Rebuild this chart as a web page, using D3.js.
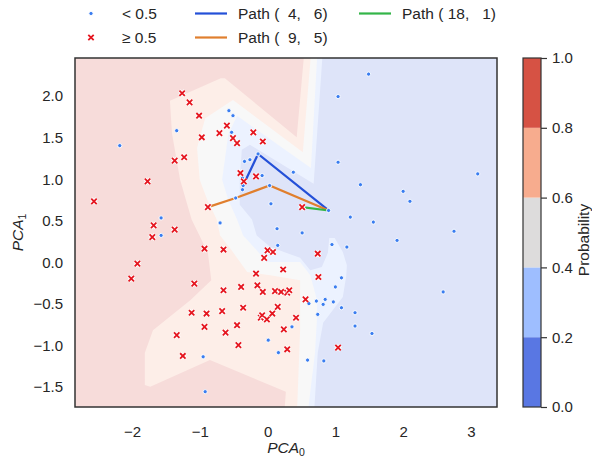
<!DOCTYPE html>
<html>
<head>
<meta charset="utf-8">
<script src="https://cdn.jsdelivr.net/npm/d3@7"></script>
<style>
body { margin: 0; background: #fff; }
svg text { font-family: "Liberation Sans", Arial, sans-serif; fill: #262626; }
</style>
</head>
<body>
<svg width="592" height="458"></svg>
<script>
// points below / above the 0.5 threshold
const lowPoints = [[-0.57,1.82],[-0.51,1.76],[-1.34,1.58],[-2.18,1.40],[-0.53,1.56],[-0.34,1.21],[-0.26,1.23],[-0.14,1.30],
    [-0.08,1.04],[0.38,1.08],[-0.37,1.01],[-0.36,0.92],[-0.37,0.87],[0.03,0.92],[-0.47,0.77],[0.05,0.70],[-0.70,0.47],
    [0.14,0.40],[-1.57,0.53],[1.49,2.26],[1.04,1.99],[1.04,1.20],[3.10,1.06],[1.37,0.93],[2.00,0.85],[2.10,0.73],
    [0.90,0.62],[1.22,0.54],[1.56,0.48],[2.75,0.37],[0.51,0.35],[-1.57,0.32],[0.15,0.20],[0.36,-0.78],[0.01,-0.94],
    [0.16,-1.09],[-0.95,-1.14],[-0.92,-1.56],[0.95,0.21],[1.17,0.18],[1.91,0.26],[1.09,-0.19],[1.00,-0.30],[0.85,-0.45],
    [0.72,-0.47],[0.61,-0.50],[0.82,-0.51],[0.97,-0.48],[1.09,-0.55],[1.29,-0.61],[0.74,-0.63],[1.29,-0.77],[1.54,-0.86],
    [2.59,-0.36],[0.59,-1.18],[0.83,-1.19]];
const highPoints = [[-1.26,2.03],[-1.15,1.92],[-1.01,1.76],[-0.60,1.64],[-0.71,1.55],[-0.97,1.50],[-0.51,1.49],[-0.45,1.43],
    [-0.21,1.56],[-0.07,1.45],[-1.37,1.22],[-1.23,1.26],[-1.77,0.97],[-2.56,0.73],[-0.40,1.07],[-0.35,0.97],[-0.17,1.03],
    [-0.88,0.66],[-1.68,0.44],[-1.37,0.39],[0.51,0.66],[-1.70,0.30],[-0.93,0.16],[-0.65,0.15],[0.00,0.14],[0.08,0.12],
    [-0.05,0.05],[0.23,-0.09],[-1.92,-0.02],[-2.01,-0.20],[-0.17,-0.14],[-1.08,-0.26],[-0.65,-0.34],[-0.39,-0.30],
    [-0.15,-0.28],[-0.07,-0.36],[0.11,-0.35],[0.20,-0.36],[0.29,-0.37],[0.32,-0.34],[-1.12,-0.61],[-0.90,-0.62],
    [-0.67,-0.59],[-0.36,-0.55],[0.15,-0.54],[-0.10,-0.67],[-0.08,-0.64],[-0.01,-0.69],[0.07,-0.62],[0.42,-0.67],
    [-0.93,-0.78],[-0.45,-0.76],[-0.62,-0.85],[0.24,-0.81],[-1.34,-0.88],[-0.43,-1.00],[0.29,-1.05],[-1.25,-1.13],
    [0.74,0.10],[0.75,-0.18],[0.56,-0.45],[1.04,-1.03]];

// counterfactual paths
const path4_6 = [[-0.36,0.92],[-0.14,1.30],[0.90,0.62]];
const path9_5 = [[-0.88,0.66],[-0.47,0.77],[0.03,0.92],[0.90,0.62]];
const path18_1 = [[0.51,0.66],[0.90,0.62]];
const pathNames = ["Path (  4,   6)", "Path (  9,   5)", "Path ( 18,   1)"];
const pathColors = ["#2450d8", "#e07f2e", "#33b548"];

// probability levels, colours and the regions above each level
const levels = [0, 0.2, 0.4, 0.6, 0.8, 1.0];
const levelColors = ["#5977e3", "#9ebeff", "#dddcdc", "#f7ac8e", "#d65244"];
const region20 = [[-3,2.6],[0.82,2.6],[0.68,0.94],[-0.26,1.41],[-0.38,1.35],[-0.41,0.99],[-0.41,0.69],[-0.23,0.51],
    [-0.16,0.32],[0.04,0.18],[0.48,0.05],[0.63,-0.10],[0.80,-0.06],[0.89,0.11],[0.91,0.29],[0.99,0.29],[1.11,0.12],
    [1.17,-0.04],[1.16,-0.17],[1.11,-0.42],[0.82,-0.73],[0.74,-1.09],[0.68,-1.9],[-3,-1.9]];
const region40 = [[-3,2.6],[0.74,2.6],[0.64,1.13],[-0.45,1.76],[-0.58,1.53],[-0.60,1.41],[-0.67,0.99],[-0.58,0.75],
    [-0.45,0.51],[-0.36,0.32],[-0.16,0.14],[-0.01,0.00],[0.48,0.00],[0.63,-0.16],[0.73,-0.46],[0.73,-0.66],
    [0.70,-1.09],[0.58,-1.9],[-3,-1.9]];
const region60 = [[-3,2.6],[0.65,2.6],[0.52,1.32],[-0.51,1.95],[-0.92,1.73],[-1.04,1.37],[-1.00,0.99],[-0.89,0.75],
    [-0.75,0.51],[-0.70,0.32],[-0.53,0.14],[-0.30,-0.12],[0.04,-0.16],[0.48,-0.22],[0.48,-0.82],[0.43,-1.9],[-3,-1.9]];
const region80 = [[-3,2.6],[0.55,2.6],[0.43,1.50],[-0.63,2.21],[-0.69,2.21],[-1.44,1.94],[-1.41,1.55],[-1.29,0.99],
    [-1.12,0.51],[-0.88,0.11],[-0.83,-0.22],[-1.14,-0.46],[-1.69,-0.82],[-1.81,-1.09],[-1.81,-1.48],[-1.73,-1.50],
    [-0.85,-1.18],[0.27,-1.56],[0.24,-1.9],[-3,-1.9]];

const xTicks = [-2, -1, 0, 1, 2, 3];
const yTicks = [-1.5, -1.0, -0.5, 0.0, 0.5, 1.0, 1.5, 2.0];
const cbTicks = [0, 0.2, 0.4, 0.6, 0.8, 1.0];

const plot = {left: 75, right: 497, top: 58, bottom: 407};
const svg = d3.select("svg");

const x = d3.scaleLinear().domain([-2.84, 3.384]).range([plot.left, plot.right]);
const y = d3.scaleLinear().domain([-1.744, 2.454]).range([plot.bottom, plot.top]);

// faded colours of the filled contours (alpha 0.2 on white)
const faded = levelColors.map(c => d3.interpolateRgb("#fff", c)(0.2));

svg.append("clipPath").attr("id", "clip")
    .append("rect")
    .attr("x", plot.left).attr("y", plot.top)
    .attr("width", plot.right - plot.left).attr("height", plot.bottom - plot.top);

const plotG = svg.append("g").attr("clip-path", "url(#clip)");

plotG.append("rect")
    .attr("x", plot.left).attr("y", plot.top)
    .attr("width", plot.right - plot.left).attr("height", plot.bottom - plot.top)
    .attr("fill", faded[0]);

const line = d3.line().x(d => x(d[0])).y(d => y(d[1]));

[region20, region40, region60, region80].forEach((reg, i) => {
    plotG.append("path")
        .attr("d", line(reg) + "Z")
        .attr("fill", faded[i + 1]);
});

// paths
[path4_6, path9_5, path18_1].forEach((p, i) => {
    plotG.append("path")
        .attr("d", line(p))
        .attr("fill", "none")
        .attr("stroke", pathColors[i])
        .attr("stroke-width", 2.2);
});

function drawDot(g, cx, cy) {
    g.append("circle")
        .attr("cx", cx).attr("cy", cy).attr("r", 2.1)
        .attr("fill", "#3a7df0")
        .attr("stroke", "#fff").attr("stroke-width", 0.9);
}
function drawCross(g, cx, cy) {
    const s = 2.7;
    const d = `M${cx - s},${cy - s}L${cx + s},${cy + s}M${cx - s},${cy + s}L${cx + s},${cy - s}`;
    g.append("path").attr("d", d).attr("stroke", "#fff").attr("stroke-width", 3.6).attr("fill", "none");
    g.append("path").attr("d", d).attr("stroke", "#e5161f").attr("stroke-width", 1.8).attr("fill", "none");
}

lowPoints.forEach(d => drawDot(plotG, x(d[0]), y(d[1])));
highPoints.forEach(d => drawCross(plotG, x(d[0]), y(d[1])));

// frame
svg.append("rect")
    .attr("x", plot.left).attr("y", plot.top)
    .attr("width", plot.right - plot.left).attr("height", plot.bottom - plot.top)
    .attr("fill", "none").attr("stroke", "#333").attr("stroke-width", 1.5);

// axes
const xAxis = svg.append("g")
    .attr("transform", `translate(0,${plot.bottom})`)
    .call(d3.axisBottom(x).tickValues(xTicks).tickSize(0).tickPadding(0)
        .tickFormat(d => d3.format("d")(d).replace("-", "\u2212")));
xAxis.select(".domain").remove();
xAxis.selectAll("text").attr("y", 29.5).attr("dy", 0).style("font-size", "15px").attr("fill", "#262626");

const yAxis = svg.append("g")
    .attr("transform", `translate(${plot.left},0)`)
    .call(d3.axisLeft(y).tickValues(yTicks).tickSize(0).tickPadding(12)
        .tickFormat(d => d3.format(".1f")(d).replace("-", "\u2212")));
yAxis.select(".domain").remove();
yAxis.selectAll("text").style("font-size", "15px").attr("dy", "0.35em").attr("fill", "#262626");

// axis labels
const xl = svg.append("text")
    .attr("x", (plot.left + plot.right) / 2).attr("y", 453)
    .attr("text-anchor", "middle").style("font-size", "15.5px");
xl.append("tspan").style("font-style", "italic").text("PCA");
xl.append("tspan").attr("dy", 2.5).style("font-size", "10.5px").text("0");

const yl = svg.append("text")
    .attr("transform", `translate(23,${(plot.top + plot.bottom) / 2}) rotate(-90)`)
    .attr("text-anchor", "middle").style("font-size", "15.5px");
yl.append("tspan").style("font-style", "italic").text("PCA");
yl.append("tspan").attr("dy", 3).style("font-size", "10.5px").text("1");

// colorbar
const cb = {left: 523, right: 541};
const cy = d3.scaleLinear().domain([0, 1]).range([plot.bottom, plot.top]);
const cbG = svg.append("g");
levelColors.forEach((c, i) => {
    cbG.append("rect")
        .attr("x", cb.left).attr("y", cy(levels[i + 1]))
        .attr("width", cb.right - cb.left).attr("height", cy(levels[i]) - cy(levels[i + 1]))
        .attr("fill", c);
});
cbG.append("rect")
    .attr("x", cb.left).attr("y", plot.top)
    .attr("width", cb.right - cb.left).attr("height", plot.bottom - plot.top)
    .attr("fill", "none").attr("stroke", "#333").attr("stroke-width", 1.2);
const cbAxis = svg.append("g")
    .attr("transform", `translate(${cb.right},0)`)
    .call(d3.axisRight(cy).tickValues(cbTicks).tickSize(6).tickPadding(5).tickFormat(d3.format(".1f")));
cbAxis.select(".domain").remove();
cbAxis.selectAll("line").attr("stroke", "#333").attr("stroke-width", 1.2);
cbAxis.selectAll("text").style("font-size", "15px").attr("fill", "#262626");

svg.append("text")
    .attr("transform", `translate(589,240) rotate(-90)`)
    .attr("text-anchor", "middle").style("font-size", "15.5px")
    .text("Probability");

// legend
const legend = svg.append("g");
drawDot(legend, 91, 13.5);
drawCross(legend, 91, 37.5);
legend.append("text").attr("x", 122).attr("y", 19).style("font-size", "15.5px").style("white-space", "pre").text("< 0.5");
legend.append("text").attr("x", 122).attr("y", 43).style("font-size", "15.5px").style("white-space", "pre").text("\u2265 0.5");
const legPos = [[195, 13.5], [195, 37.5], [359, 13.5]];
pathNames.forEach((name, i) => {
    const [lx, ly] = legPos[i];
    legend.append("line")
        .attr("x1", lx).attr("x2", lx + 32).attr("y1", ly).attr("y2", ly)
        .attr("stroke", pathColors[i]).attr("stroke-width", 2.2);
    legend.append("text")
        .attr("x", lx + 43).attr("y", ly + 5.5)
        .style("font-size", "15.5px").style("white-space", "pre")
        .text(name);
});
</script>
</body>
</html>
